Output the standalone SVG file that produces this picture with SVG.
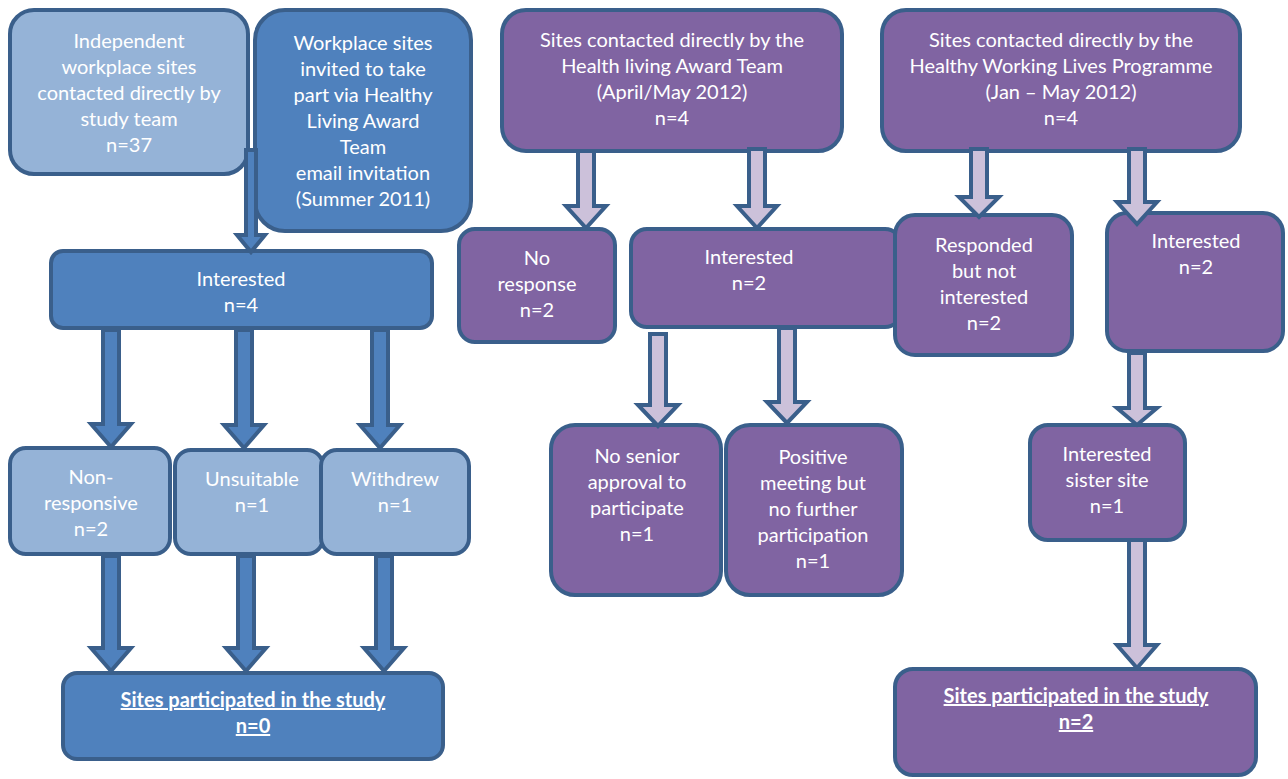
<svg xmlns="http://www.w3.org/2000/svg" width="1288" height="779" viewBox="0 0 1288 779">
<style>
.b{stroke:#3A5F8B;stroke-width:4}
.lb{fill:#95B3D7}
.db{fill:#4F81BD}
.pu{fill:#8064A2}
.ab{fill:#4F81BD;stroke:#3A5F8B;stroke-width:4;stroke-linejoin:miter}
.ap{fill:#CCC1DA;stroke:#3A5F8B;stroke-width:4;stroke-linejoin:miter}
text{font-family:Lato,"Liberation Sans",sans-serif;font-size:20px;fill:#FFFFFF;text-anchor:middle}
.u{font-weight:bold;text-decoration:underline}
</style>
<rect width="1288" height="779" fill="#FFFFFF"/>
<g id="n-independent"><rect class="b lb" x="10" y="10" width="238" height="164" rx="24"/>
<text x="129" y="48">Independent</text><text x="129" y="74">workplace sites</text><text x="129" y="100">contacted directly by</text><text x="129" y="126">study team</text><text x="129" y="152">n=37</text></g>
<g id="n-workplace"><rect class="b db" x="255" y="10" width="216" height="221" rx="30"/>
<text x="363" y="50">Workplace sites</text><text x="363" y="76">invited to take</text><text x="363" y="102">part via Healthy</text><text x="363" y="128">Living Award</text><text x="363" y="154">Team</text><text x="363" y="180">email invitation</text><text x="363" y="206">(Summer 2011)</text></g>
<g id="n-interested-blue"><rect class="b db" x="51" y="251" width="381" height="77" rx="12"/>
<text x="241" y="286">Interested</text><text x="241" y="312">n=4</text></g>
<g id="n-nonresponsive"><rect class="b lb" x="10" y="448" width="160" height="106" rx="16"/>
<text x="91" y="484">Non-</text><text x="91" y="510">responsive</text><text x="91" y="536">n=2</text></g>
<g id="n-unsuitable"><rect class="b lb" x="175" y="450" width="148" height="104" rx="16"/>
<text x="252" y="486">Unsuitable</text><text x="252" y="512">n=1</text></g>
<g id="n-withdrew"><rect class="b lb" x="321" y="450" width="148" height="104" rx="16"/>
<text x="395" y="486">Withdrew</text><text x="395" y="512">n=1</text></g>
<g id="n-participated-blue"><rect class="b db" x="63" y="673" width="380" height="86" rx="14"/>
<text class="u" x="253" y="707">Sites participated in the study</text><text class="u" x="253" y="733">n=0</text></g>
<g id="n-hla"><rect class="b pu" x="502" y="10" width="340" height="141" rx="24"/>
<text x="672" y="47">Sites contacted directly by the</text><text x="672" y="73">Health living Award Team</text><text x="672" y="99">(April/May 2012)</text><text x="672" y="125">n=4</text></g>
<g id="n-noresponse"><rect class="b pu" x="459" y="229" width="156" height="113" rx="16"/>
<text x="537" y="265">No</text><text x="537" y="291">response</text><text x="537" y="317">n=2</text></g>
<g id="n-interested-hla"><rect class="b pu" x="631" y="229" width="270" height="98" rx="16"/>
<text x="749" y="264">Interested</text><text x="749" y="290">n=2</text></g>
<g id="n-nosenior"><rect class="b pu" x="551" y="425" width="170" height="170" rx="24"/>
<text x="637" y="463">No senior</text><text x="637" y="489">approval to</text><text x="637" y="515">participate</text><text x="637" y="541">n=1</text></g>
<g id="n-positive"><rect class="b pu" x="726" y="425" width="176" height="170" rx="24"/>
<text x="813" y="464">Positive</text><text x="813" y="490">meeting but</text><text x="813" y="516">no further</text><text x="813" y="542">participation</text><text x="813" y="568">n=1</text></g>
<g id="n-hwl"><rect class="b pu" x="882" y="10" width="358" height="141" rx="24"/>
<text x="1061" y="47">Sites contacted directly by the</text><text x="1061" y="73">Healthy Working Lives Programme</text><text x="1061" y="99">(Jan – May 2012)</text><text x="1061" y="125">n=4</text></g>
<g id="n-responded"><rect class="b pu" x="895" y="215" width="177" height="140" rx="20"/>
<text x="984" y="252">Responded</text><text x="984" y="278">but not</text><text x="984" y="304">interested</text><text x="984" y="330">n=2</text></g>
<g id="n-interested-hwl"><rect class="b pu" x="1107" y="213" width="176" height="138" rx="20"/>
<text x="1196" y="248">Interested</text><text x="1196" y="274">n=2</text></g>
<g id="n-sister"><rect class="b pu" x="1030" y="425" width="155" height="115" rx="18"/>
<text x="1107" y="461">Interested</text><text x="1107" y="487">sister site</text><text x="1107" y="513">n=1</text></g>
<g id="n-participated-purple"><rect class="b pu" x="895" y="669" width="361" height="106" rx="18"/>
<text class="u" x="1076" y="703">Sites participated in the study</text><text class="u" x="1076" y="729">n=2</text></g>
<g id="connectors">
<polygon class="ab" points="246,150 256,150 256,235 265,235 251,252 237,235 246,235"/>
<polygon class="ab" points="103,330 119,330 119,424 131,424 111,447 91,424 103,424"/>
<polygon class="ab" points="236,330 252,330 252,425 264,425 244,448 224,425 236,425"/>
<polygon class="ab" points="372,330 388,330 388,425 400,425 380,448 360,425 372,425"/>
<polygon class="ab" points="103,556 119,556 119,648 131,648 111,671 91,648 103,648"/>
<polygon class="ab" points="238,556 254,556 254,648 266,648 246,671 226,648 238,648"/>
<polygon class="ab" points="376,556 392,556 392,648 404,648 384,671 364,648 376,648"/>
<polygon class="ap" points="578,151 594,151 594,206 606,206 586,228 566,206 578,206"/>
<polygon class="ap" points="749,149 765,149 765,206 777,206 757,228 737,206 749,206"/>
<polygon class="ap" points="650,334 666,334 666,405 678,405 658,426 638,405 650,405"/>
<polygon class="ap" points="779,328 795,328 795,402 807,402 787,423 767,402 779,402"/>
<polygon class="ap" points="971,149 987,149 987,197 999,197 979,217 959,197 971,197"/>
<polygon class="ap" points="1129,149 1145,149 1145,202 1157,202 1137,224 1117,202 1129,202"/>
<polygon class="ap" points="1129,353 1145,353 1145,408 1157,408 1137,425 1117,408 1129,408"/>
<polygon class="ap" points="1129,540 1145,540 1145,645 1157,645 1137,668 1117,645 1129,645"/>
</g>
</svg>
